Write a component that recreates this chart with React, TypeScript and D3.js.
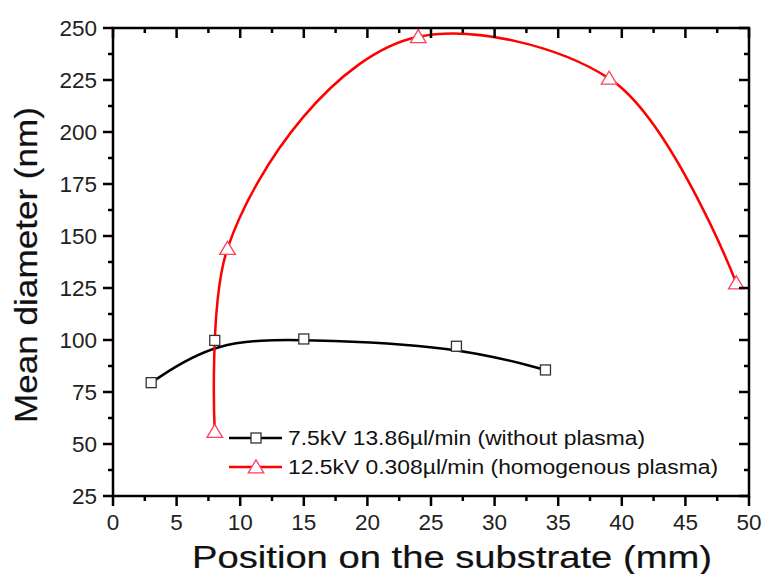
import React from "react";
import * as d3 from "d3";

const blackX = [3, 8, 15, 27, 34];
const blackY = [79.5, 99.8, 100.5, 97, 85.6];
const redX = [8, 9, 24, 39, 49];
const redY = [56, 144, 245.8, 225.8, 127.4];
const xTicks = [0, 5, 10, 15, 20, 25, 30, 35, 40, 45, 50];
const yTicks = [25, 50, 75, 100, 125, 150, 175, 200, 225, 250];
const legendLabels = [
  "7.5kV 13.86\u00b5l/min (without plasma)",
  "12.5kV 0.308\u00b5l/min (homogenous plasma)",
];

const W = 766;
const H = 574;
const L = 113, R = 749, T = 28, B = 496;

export default function App() {
  const x = d3.scaleLinear().domain([0, 50]).range([L, R]);
  const y = d3.scaleLinear().domain([25, 250]).range([B, T]);
  const blackLine = d3
    .line<[number, number]>()
    .x((d) => x(d[0]))
    .y((d) => y(d[1]))
    .curve(d3.curveBasis);
  const redLine = d3
    .line<[number, number]>()
    .x((d) => x(d[0]))
    .y((d) => y(d[1]))
    .curve(d3.curveCatmullRom.alpha(1));
  const blackPts: [number, number][] = blackX.map((v, i) => [v, blackY[i]]);
  const redPts: [number, number][] = redX.map((v, i) => [v, redY[i]]);
  const xMinor = d3.range(2.5, 50, 5);
  const yMinor = d3.range(37.5, 250, 25);
  const font = "'Liberation Sans', Arial, sans-serif";
  const sq = 10;
  const tri = (cx: number, cy: number, s = 13) =>
    `M${cx},${cy - s * 0.55}L${cx + s * 0.6},${cy + s * 0.45}L${cx - s * 0.6},${cy + s * 0.45}Z`;

  return (
    <svg
      width={W}
      height={H}
      style={{ position: "absolute", left: 0, top: 0, background: "#fff" }}
      fontFamily={font}
    >
      <rect x={0} y={0} width={W} height={H} fill="#fff" />
      {/* curves */}
      <path d={blackLine(blackPts) || ""} fill="none" stroke="#000" strokeWidth={2.5} />
      <path d={redLine(redPts) || ""} fill="none" stroke="#ff0000" strokeWidth={2.5} />
      {blackPts.map((p, i) => (
        <rect
          key={"b" + i}
          x={x(p[0]) - sq / 2}
          y={y(p[1]) - sq / 2}
          width={sq}
          height={sq}
          fill="#fff"
          stroke="#333"
          strokeWidth={1.3}
        />
      ))}
      {redPts.map((p, i) => (
        <path
          key={"r" + i}
          d={tri(x(p[0]), y(p[1]))}
          fill="#fff"
          stroke="#ff4060"
          strokeWidth={1.3}
        />
      ))}
      {/* frame */}
      <rect x={L} y={T} width={R - L} height={B - T} fill="none" stroke="#000" strokeWidth={2.5} />
      {/* x ticks */}
      {xTicks.map((t) => (
        <g key={"xt" + t}>
          <line x1={x(t)} x2={x(t)} y1={B} y2={B + 10} stroke="#000" strokeWidth={2.5} />
          <line x1={x(t)} x2={x(t)} y1={T} y2={T + 10} stroke="#000" strokeWidth={2.5} />
          <text x={x(t)} y={530} fontSize={22.5} textAnchor="middle" fill="#222">
            {t}
          </text>
        </g>
      ))}
      {xMinor.map((t) => (
        <g key={"xm" + t}>
          <line x1={x(t)} x2={x(t)} y1={B} y2={B + 5} stroke="#000" strokeWidth={2.5} />
          <line x1={x(t)} x2={x(t)} y1={T} y2={T + 5} stroke="#000" strokeWidth={2.5} />
        </g>
      ))}
      {/* y ticks */}
      {yTicks.map((t) => (
        <g key={"yt" + t}>
          <line x1={L - 10} x2={L} y1={y(t)} y2={y(t)} stroke="#000" strokeWidth={2.5} />
          <line x1={R - 10} x2={R} y1={y(t)} y2={y(t)} stroke="#000" strokeWidth={2.5} />
          <text x={97} y={y(t) + 8} fontSize={22.5} textAnchor="end" fill="#222">
            {t}
          </text>
        </g>
      ))}
      {yMinor.map((t) => (
        <g key={"ym" + t}>
          <line x1={L - 5} x2={L} y1={y(t)} y2={y(t)} stroke="#000" strokeWidth={2.5} />
          <line x1={R - 5} x2={R} y1={y(t)} y2={y(t)} stroke="#000" strokeWidth={2.5} />
        </g>
      ))}
      {/* axis titles */}
      <text
        x={192}
        y={568}
        fontSize={32}
        textLength={520}
        lengthAdjust="spacingAndGlyphs"
        fill="#111"
        stroke="#111"
        strokeWidth={0.2}
      >
        Position on the substrate (mm)
      </text>
      <text
        transform={`translate(37,423) rotate(-90)`}
        fontSize={31}
        textLength={316}
        lengthAdjust="spacingAndGlyphs"
        fill="#111"
        stroke="#111"
        strokeWidth={0.2}
      >
        Mean diameter (nm)
      </text>
      {/* legend */}
      {legendLabels.map((lab, i) => {
        const ly = 438 + i * 29;
        const color = i === 0 ? "#000" : "#ff0000";
        return (
          <g key={"lg" + i}>
            <line x1={229} x2={282} y1={ly} y2={ly} stroke={color} strokeWidth={2.5} />
            {i === 0 ? (
              <rect x={256 - 5} y={ly - 5} width={10} height={10} fill="#fff" stroke="#333" strokeWidth={1.3} />
            ) : (
              <path d={tri(256, ly)} fill="#fff" stroke="#ff4060" strokeWidth={1.3} />
            )}
            <text
              x={288}
              y={ly + 7}
              fontSize={20.5}
              textLength={i === 0 ? 357 : 430}
              lengthAdjust="spacingAndGlyphs"
              fill="#111"
            >
              {lab}
            </text>
          </g>
        );
      })}
    </svg>
  );
}
